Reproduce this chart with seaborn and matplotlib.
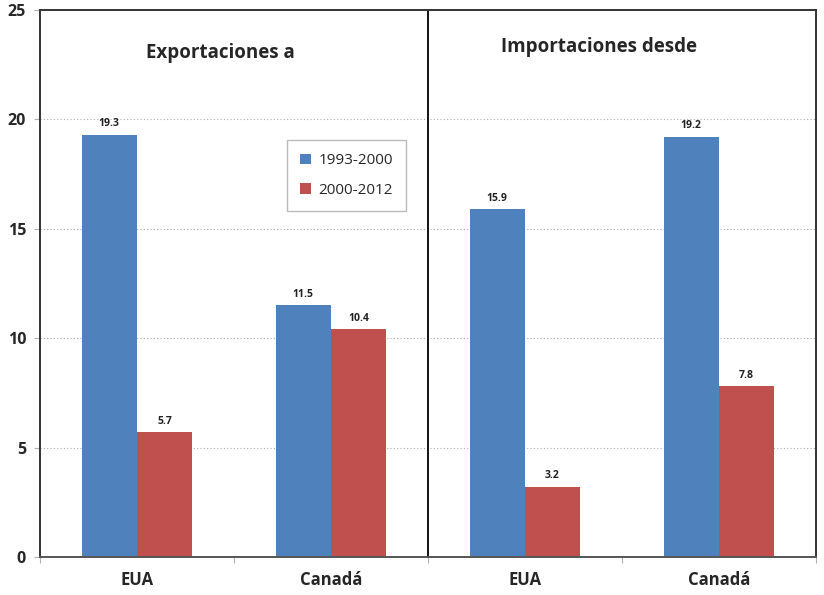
import matplotlib
matplotlib.use("Agg")
import matplotlib.pyplot as plt
import seaborn as sns
import pandas as pd

categories = ["EUA", "Canadá", "EUA", "Canadá"]
slots = ["Exp EUA", "Exp Canadá", "Imp EUA", "Imp Canadá"]
periods = ["1993-2000", "2000-2012"]
values_1993_2000 = [19.3, 11.5, 15.9, 19.2]
values_2000_2012 = [5.7, 10.4, 3.2, 7.8]
panel_titles = ["Exportaciones a", "Importaciones desde"]
yticks = [0, 5, 10, 15, 20, 25]

df = pd.DataFrame({
    "slot": slots * 2,
    "period": [periods[0]] * 4 + [periods[1]] * 4,
    "value": values_1993_2000 + values_2000_2012,
})

sns.set_style("white")
plt.rcParams["font.family"] = ["Open Sans", "DejaVu Sans"]

fig = plt.figure(figsize=(8.24, 5.95), dpi=100)
ax = fig.add_axes([0.0485, 0.064, 0.9415, 0.919])

palette = {"1993-2000": "#4F81BD", "2000-2012": "#C0504D"}
sns.barplot(data=df, x="slot", y="value", hue="period", order=slots,
            hue_order=periods, palette=palette, width=0.57, saturation=1,
            linewidth=0, ax=ax, legend=True)

for c in ax.containers:
    ax.bar_label(c, fmt="%.1f", fontsize=7.5, fontweight="bold", padding=4,
                 color="#222222")

ax.set_ylim(0, 25)
ax.set_xlim(-0.5, 3.5)
ax.set_yticks(yticks)
ax.set_yticklabels([str(v) for v in yticks], fontsize=11.5, fontweight="bold")
ax.yaxis.grid(True, linestyle=(0, (1, 2)), color="#b0b0b0", linewidth=0.8)
ax.set_axisbelow(True)

# category boundaries as major ticks, labels at centers
ax.set_xticks([-0.5, 0.5, 1.5, 2.5, 3.5])
ax.set_xticklabels([])
ax.set_xticks([0, 1, 2, 3], minor=True)
ax.set_xticklabels(categories, minor=True, fontsize=12, fontweight="bold")
ax.tick_params(axis="x", which="major", direction="out", length=4,
               color="#b0b0b0", bottom=True)
ax.tick_params(axis="x", which="minor", length=0, pad=10)
ax.tick_params(axis="y", length=4, direction="out", color="#b0b0b0", left=True, pad=6)

ax.set_xlabel("")
ax.set_ylabel("")

for s in ["left", "top", "right", "bottom"]:
    ax.spines[s].set_visible(True)
    ax.spines[s].set_color("#333333")
    ax.spines[s].set_linewidth(1.4)
ax.spines["bottom"].set_color("#555555")

ax.axvline(1.5, color="#111111", linewidth=1.4)

ax.text(0.43, 23.03, panel_titles[0], ha="center", va="center",
        fontsize=13.5, fontweight="bold")
ax.text(2.38, 23.3, panel_titles[1], ha="center", va="center",
        fontsize=13.5, fontweight="bold")

leg = ax.legend(loc="upper left", bbox_to_anchor=(0.309, 0.776),
                frameon=True, fancybox=False, edgecolor="#aaaaaa",
                fontsize=11, handlelength=0.7, handleheight=0.7,
                labelspacing=0.95, borderpad=0.85, handletextpad=0.5,
                title=None)
leg.get_frame().set_linewidth(1.0)

fig.savefig("out.png", dpi=100)
